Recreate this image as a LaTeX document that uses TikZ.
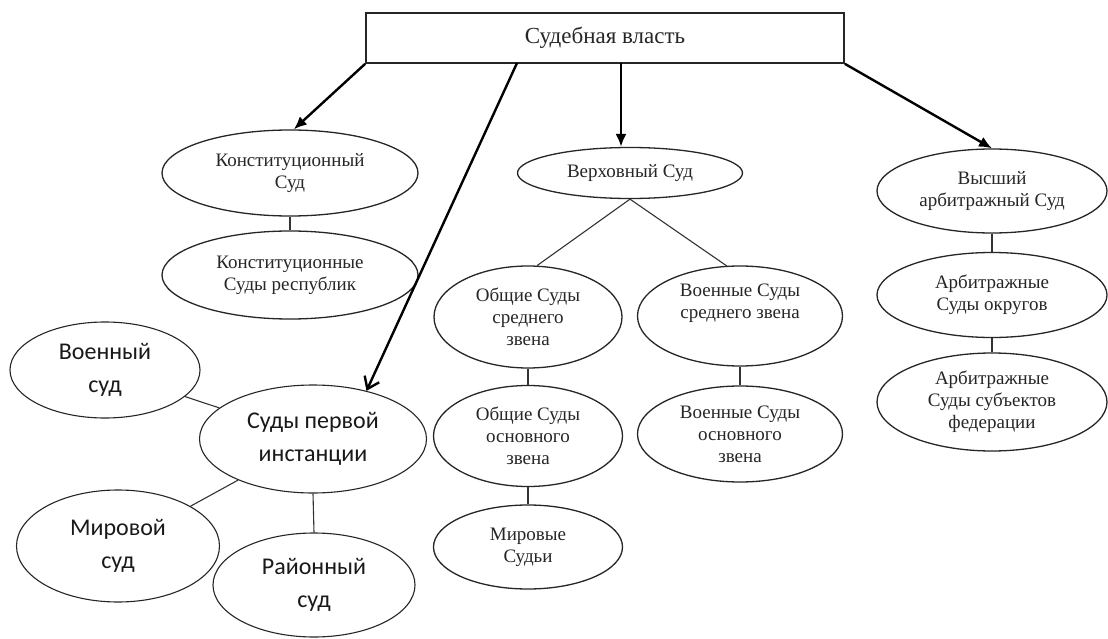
\documentclass[tikz,border=0pt]{standalone}
\usepackage{fontspec}
\setmainfont{Liberation Serif}
\newfontfamily\calfont{Carlito}
\usetikzlibrary{shapes.geometric,arrows.meta}
\begin{document}
\begin{tikzpicture}[x=1pt,y=-1pt,
  tnode/.style={draw=black!85, line width=1.3pt, ellipse, inner sep=0pt, align=center,
    font=\fontsize{19}{22}\selectfont, text=black!85},
  cnode/.style={draw=black!85, line width=1.1pt, ellipse, inner sep=0pt, align=center,
    font=\calfont\fontsize{24}{33}\selectfont, text=black!90},
  link/.style={draw=black!80, line width=1.1pt},
  bigarrow/.style={draw=black, line width=2.4pt, -{Latex[length=13pt,width=11pt]}},
  openarrow/.style={draw=black, line width=2.4pt, -{Straight Barb[length=11pt,width=16pt,line width=2.4pt]}}
]
\useasboundingbox (0,0) rectangle (1108,639);
\fill[white] (0,0) rectangle (1108,639);

\node[draw=black!85, line width=1.6pt, minimum width=478pt, minimum height=50pt, inner sep=0pt,
  font=\fontsize{23}{26}\selectfont, text=black!85] (top) at (605,38) {Судебная власть};

\node[tnode, minimum width=256pt, minimum height=86pt] (ks) at (290,173) {Конституционный\\Суд};
\node[tnode, minimum width=256pt, minimum height=88pt] (ksr) at (290,275) {Конституционные\\Суды республик};

\node[tnode, minimum width=225pt, minimum height=51pt] (vs) at (630,173) {Верховный Суд};
\node[tnode, minimum width=188pt, minimum height=102pt] (os) at (528,317) {Общие Суды\\среднего\\звена};
\node[tnode, minimum width=205pt, minimum height=100pt] (vsm) at (740,316) {Военные Суды\\среднего звена\\[8pt]};
\node[tnode, minimum width=189pt, minimum height=101pt] (oo) at (528,436) {Общие Суды\\основного\\звена};
\node[tnode, minimum width=205pt, minimum height=96pt] (vo) at (740,434) {Военные Суды\\основного\\звена};
\node[tnode, minimum width=189pt, minimum height=84pt] (ms) at (528,547) {Мировые\\Судьи};

\node[tnode, minimum width=230pt, minimum height=84pt] (vas) at (992,191) {Высший\\арбитражный Суд};
\node[tnode, minimum width=230pt, minimum height=85pt] (aso) at (992,295) {Арбитражные\\Суды округов};
\node[tnode, minimum width=230pt, minimum height=98pt] (ass) at (992,402) {Арбитражные\\Суды субъектов\\федерации};

\node[cnode, minimum width=190pt, minimum height=96pt] (vsd) at (105,370) {Военный\\суд};
\node[cnode, minimum width=227pt, minimum height=108pt] (spi) at (313,439) {Суды первой\\инстанции};
\node[cnode, minimum width=203pt, minimum height=112pt] (mir) at (118,546) {Мировой\\суд};
\node[cnode, minimum width=202pt, minimum height=104pt] (rai) at (314,585) {Районный\\суд};

% connectors
\draw[link] (ks.south) -- (ksr.north);
\draw[link] (vs.south) -- (os.80);
\draw[link] (vs.south) -- (vsm.105);
\draw[link] (os.south) -- (oo.north);
\draw[link] (oo.south) -- (ms.north);
\draw[link] (vsm.south) -- (vo.north);
\draw[link] (vas.south) -- (aso.north);
\draw[link] (aso.south) -- (ass.north);
\draw[link] (vsd) -- (spi);
\draw[link] (mir) -- (spi);
\draw[link] (spi.south) -- (rai.north);

% arrows
\coordinate (a2) at (517,63);
\coordinate (a3) at (621,63);
\draw[bigarrow] (top.south west) -- (ks.85);
\draw[openarrow] (a2) -- (spi.42);
\draw[bigarrow] (a3) -- (a3 |- vs.north);
\draw[bigarrow] (top.south east) -- (vas.north);
\end{tikzpicture}
\end{document}
